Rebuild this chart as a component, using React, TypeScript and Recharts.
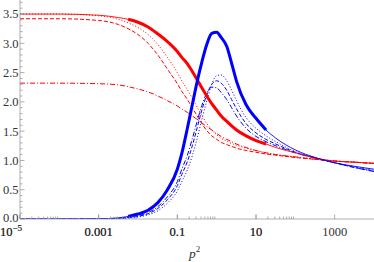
import { LineChart, Line, XAxis, YAxis } from "recharts";

// p^2 sample points (log axis)
const P2 = [1e-5, 1e-4, 0.001, 0.0032, 0.0056, 0.01, 0.018, 0.032, 0.056, 0.1, 0.13, 0.18, 0.24, 0.32, 0.42, 0.56, 0.75, 1, 1.3, 1.8, 2.4, 3.2, 5.6, 10, 18, 32, 100, 320, 1000, 3200, 10000];

const redSolid = [3.5, 3.5, 3.48, 3.44, 3.41, 3.36, 3.28, 3.16, 3.03, 2.86, 2.76, 2.65, 2.52, 2.38, 2.24, 2.1, 1.97, 1.86, 1.76, 1.67, 1.59, 1.52, 1.42, 1.34, 1.28, 1.22, 1.13, 1.04, 0.99, 0.97, 0.95];
const redDotted = [3.5, 3.5, 3.47, 3.41, 3.35, 3.27, 3.15, 2.98, 2.76, 2.5, 2.36, 2.21, 2.06, 1.91, 1.77, 1.63, 1.52, 1.44, 1.38, 1.33, 1.29, 1.26, 1.21, 1.17, 1.13, 1.1, 1.06, 1.02, 0.99, 0.97, 0.95];
const redDashed = [3.42, 3.42, 3.39, 3.32, 3.25, 3.15, 3.0, 2.8, 2.56, 2.31, 2.18, 2.04, 1.9, 1.76, 1.63, 1.51, 1.42, 1.36, 1.31, 1.27, 1.24, 1.21, 1.17, 1.14, 1.11, 1.09, 1.05, 1.02, 0.99, 0.97, 0.95];
const redDashDot = [2.32, 2.32, 2.31, 2.29, 2.26, 2.22, 2.17, 2.1, 2.02, 1.93, 1.88, 1.82, 1.76, 1.7, 1.64, 1.58, 1.52, 1.46, 1.41, 1.36, 1.32, 1.28, 1.22, 1.17, 1.13, 1.1, 1.06, 1.02, 0.99, 0.97, 0.95];

const blueSolid = [0, 0, 0.004, 0.02, 0.045, 0.085, 0.15, 0.28, 0.5, 0.85, 1.12, 1.55, 1.95, 2.35, 2.68, 2.98, 3.17, 3.19, 3.1, 2.95, 2.66, 2.35, 1.95, 1.72, 1.52, 1.38, 1.18, 1.05, 0.96, 0.9, 0.85];
const blueDotted = [0, 0, 0.002, 0.008, 0.018, 0.035, 0.07, 0.14, 0.27, 0.48, 0.64, 0.84, 1.08, 1.38, 1.7, 2.02, 2.3, 2.45, 2.46, 2.36, 2.2, 2.02, 1.73, 1.55, 1.42, 1.32, 1.15, 1.05, 0.96, 0.89, 0.83];
const blueDashed = [0, 0, 0.003, 0.01, 0.022, 0.045, 0.09, 0.18, 0.33, 0.57, 0.76, 0.98, 1.25, 1.56, 1.86, 2.12, 2.3, 2.36, 2.32, 2.2, 2.04, 1.88, 1.63, 1.47, 1.36, 1.28, 1.14, 1.04, 0.96, 0.88, 0.82];
const blueDashDot = [0, 0, 0.004, 0.012, 0.026, 0.055, 0.11, 0.21, 0.38, 0.64, 0.85, 1.09, 1.37, 1.67, 1.94, 2.15, 2.25, 2.24, 2.16, 2.04, 1.9, 1.76, 1.55, 1.41, 1.32, 1.25, 1.13, 1.04, 0.96, 0.88, 0.81];

// range where the solid curves are drawn thick
const THICK_FROM = 0.0056;
const THICK_TO = 18;

const X_MAJOR = [1e-5, 0.001, 0.1, 10, 1000];
const Y_MAJOR = [0, 0.5, 1, 1.5, 2, 2.5, 3, 3.5];

const xMinor: number[] = [];
X_MAJOR.slice(1).forEach((m) => {
  for (let j = 1; j <= 9; j++) xMinor.push(+((m / 100) * j).toPrecision(3));
});
const X_TICKS = [...X_MAJOR, ...xMinor].sort((a, b) => a - b);
const Y_TICKS: number[] = [];
for (let i = 0; i <= 37; i++) Y_TICKS.push(+(i / 10).toFixed(1));

const data = P2.map((p2, i) => {
  const thick = p2 >= THICK_FROM && p2 <= THICK_TO;
  return {
    p2,
    redSolid: redSolid[i],
    redDotted: redDotted[i],
    redDashed: redDashed[i],
    redDashDot: redDashDot[i],
    blueSolid: blueSolid[i],
    blueDotted: blueDotted[i],
    blueDashed: blueDashed[i],
    blueDashDot: blueDashDot[i],
    redThick: thick ? redSolid[i] : null,
    blueThick: thick ? blueSolid[i] : null,
  };
});

const FONT = "Liberation Serif";
const AXIS = "#999";
const TEXT = "#333";
const RED = "#ff0000";
const BLUE = "#0000ff";
const txt = { fontFamily: FONT, fontSize: 12.5, fill: TEXT };

function XTick(props: any) {
  const { x, y, payload } = props;
  const v = payload.value;
  const major = X_MAJOR.includes(v);
  return (
    <g>
      <line x1={x} x2={x} y1={y} y2={y - (major ? 4.5 : 2.5)} stroke={AXIS} strokeWidth={0.8} />
      {major && v === 1e-5 && (
        <text x={0} y={y + 16.5} style={txt}>
          10<tspan dy={-5} style={{ fontSize: 9 }}>−5</tspan>
        </text>
      )}
      {major && v !== 1e-5 && (
        <text x={x} y={y + 16.5} textAnchor="middle" style={txt}>
          {String(v)}
        </text>
      )}
    </g>
  );
}

function YTick(props: any) {
  const { x, y, payload } = props;
  const v = payload.value;
  const major = Y_MAJOR.some((m) => Math.abs(m - v) < 1e-6);
  return (
    <g>
      <line x1={x} x2={x + (major ? 4.5 : 2.5)} y1={y} y2={y} stroke={AXIS} strokeWidth={0.8} />
      {major && (
        <text x={x - 1.5} y={v === 0 ? y - 1.5 : y} dy="0.35em" textAnchor="end" style={txt}>
          {v.toFixed(1)}
        </text>
      )}
    </g>
  );
}

function P2Label() {
  return (
    <text x={189} y={258} style={{ fontFamily: FONT, fontSize: 13.5, fontStyle: "italic", fill: TEXT }}>
      p<tspan dy={-6} style={{ fontSize: 9, fontStyle: "normal" }}>2</tspan>
    </text>
  );
}

export default function App() {
  return (
    <div style={{ position: "absolute", left: 0, top: 0, background: "#fff" }}>
      <LineChart width={374} height={262} data={data} margin={{ top: 0, right: 0, left: 0, bottom: 0 }}>
        <XAxis
          dataKey="p2"
          type="number"
          scale="log"
          domain={[1e-5, 1e4]}
          allowDataOverflow
          ticks={X_TICKS}
          interval={0}
          tick={<XTick />}
          tickLine={false}
          tickSize={0}
          tickMargin={0}
          height={43}
          axisLine={{ stroke: AXIS, strokeWidth: 0.8 }}
          label={<P2Label />}
        />
        <YAxis
          type="number"
          domain={[0, 3.74]}
          allowDataOverflow
          ticks={Y_TICKS}
          interval={0}
          tick={<YTick />}
          tickLine={false}
          tickSize={0}
          tickMargin={0}
          width={20}
          axisLine={{ stroke: AXIS, strokeWidth: 0.8 }}
        />
        <Line type="monotone" dataKey="blueDotted" stroke={BLUE} strokeWidth={1} strokeDasharray="1 2" dot={false} isAnimationActive={false} />
        <Line type="monotone" dataKey="blueDashed" stroke={BLUE} strokeWidth={1} strokeDasharray="4 2" dot={false} isAnimationActive={false} />
        <Line type="monotone" dataKey="blueDashDot" stroke={BLUE} strokeWidth={1} strokeDasharray="5 2 1 2" dot={false} isAnimationActive={false} />
        <Line type="monotone" dataKey="redDotted" stroke={RED} strokeWidth={1} strokeDasharray="1 2" dot={false} isAnimationActive={false} />
        <Line type="monotone" dataKey="redDashed" stroke={RED} strokeWidth={1} strokeDasharray="4 2" dot={false} isAnimationActive={false} />
        <Line type="monotone" dataKey="redDashDot" stroke={RED} strokeWidth={1} strokeDasharray="5 2 1 2" dot={false} isAnimationActive={false} />
        <Line type="monotone" dataKey="redSolid" stroke={RED} strokeWidth={0.9} dot={false} isAnimationActive={false} />
        <Line type="monotone" dataKey="blueSolid" stroke={BLUE} strokeWidth={0.9} dot={false} isAnimationActive={false} />
        <Line type="monotone" dataKey="redThick" stroke={RED} strokeWidth={3} dot={false} isAnimationActive={false} />
        <Line type="monotone" dataKey="blueThick" stroke={BLUE} strokeWidth={3} dot={false} isAnimationActive={false} />
      </LineChart>
    </div>
  );
}
